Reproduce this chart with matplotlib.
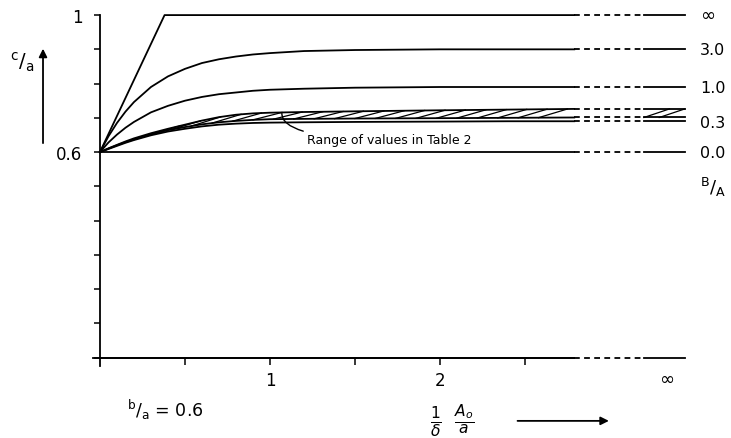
import numpy as np
import matplotlib.pyplot as plt

plt.rcParams["font.family"] = "DejaVu Sans"
plt.rcParams["mathtext.fontset"] = "dejavusans"

# values: x = (1/delta)(A0/a), y = c/a, one curve per B/A
x_inf = [0.0, 0.38, 2.79]
c_inf = [0.6, 1.0, 1.0]

x_curve = [0.0, 0.05, 0.1, 0.15, 0.2, 0.3, 0.4, 0.5, 0.6, 0.7, 0.8, 0.9,
           1.0, 1.2, 1.5, 2.0, 2.4, 2.79]
c_30 = [0.6, 0.646, 0.685, 0.718, 0.746, 0.790, 0.821, 0.843, 0.860, 0.871, 0.879, 0.885,
        0.889, 0.895, 0.898, 0.900, 0.900, 0.900]
c_10 = [0.6, 0.628, 0.651, 0.671, 0.688, 0.716, 0.735, 0.750, 0.761, 0.769, 0.774, 0.779,
        0.782, 0.785, 0.788, 0.790, 0.790, 0.790]
c_band_hi = [0.6, 0.611, 0.621, 0.631, 0.640, 0.655, 0.668, 0.680, 0.692, 0.702, 0.709, 0.713,
             0.715, 0.717, 0.719, 0.722, 0.724, 0.726]
c_band_mid = [0.6, 0.610, 0.620, 0.629, 0.637, 0.652, 0.664, 0.673, 0.681, 0.687, 0.691, 0.694,
              0.696, 0.697, 0.698, 0.699, 0.700, 0.701]
c_band_lo = [0.6, 0.609, 0.618, 0.627, 0.635, 0.649, 0.660, 0.668, 0.675, 0.680, 0.683, 0.685,
             0.686, 0.687, 0.688, 0.689, 0.690, 0.690]

x_zero = [0.0, 2.79]
c_zero = [0.6, 0.6]

ba_labels = ["\u221e", "3.0", "1.0", "0.3", "0.0"]

y_ticks = [0.0, 0.1, 0.2, 0.3, 0.4, 0.5, 0.6, 0.7, 0.8, 0.9, 1.0]
y_ticklabels = ["", "", "", "", "", "", "0.6", "", "", "", "1"]
x_ticks = [0.5, 1.0, 1.5, 2.0, 2.5]
x_ticklabels = ["", "1", "", "2", ""]

lw = 1.3
x_dash = (2.79, 3.19)
x_end = (3.20, 3.44)
dash = (0, (3.2, 2.4))

fig = plt.figure(figsize=(7.31, 4.39), dpi=100)
ax = fig.add_axes([0, 0, 1, 1])
ax.set_xlim(-0.588, 3.712)
ax.set_ylim(-0.235, 1.047)
ax.patch.set_alpha(0)


def draw(xs, ys):
    # solid part, broken (dashed) part, and the value "at infinity"
    ax.plot(xs, ys, color="black", lw=lw)
    ax.plot(x_dash, [ys[-1]] * 2, color="black", lw=lw, linestyle=dash)
    ax.plot(x_end, [ys[-1]] * 2, color="black", lw=lw)


draw(x_inf, c_inf)
draw(x_curve, c_30)
draw(x_curve, c_10)
draw(x_curve, c_band_hi)
draw(x_curve, c_band_mid)
draw(x_curve, c_band_lo)
draw(x_zero, c_zero)

# hatching of the band (range of values in Table 2)
for x0 in np.arange(0.30, 2.62, 0.12):
    x1 = x0 + 0.17
    ax.plot([x0, x1],
            [np.interp(x0, x_curve, c_band_mid), np.interp(x1, x_curve, c_band_hi)],
            color="black", lw=0.9)
for x0 in (3.20, 3.29):
    x1 = min(x0 + 0.15, x_end[1])
    ax.plot([x0, x1], [c_band_mid[-1], c_band_hi[-1]], color="black", lw=0.9)

# axes
ax.spines[["top", "right"]].set_visible(False)
ax.spines["left"].set_position(("data", 0))
ax.spines["bottom"].set_position(("data", 0))
ax.spines["left"].set_bounds(-0.025, 1.0)
ax.spines["bottom"].set_bounds(-0.04, 2.79)
ax.spines["left"].set_linewidth(lw)
ax.spines["bottom"].set_linewidth(lw)
draw([0.0, 2.79], [0.0, 0.0])

ax.set_yticks(y_ticks)
ax.set_yticklabels(y_ticklabels)
ax.set_xticks(x_ticks)
ax.set_xticklabels(x_ticklabels)
ax.tick_params(axis="y", direction="out", length=4.5, width=1.1, pad=8, labelsize=12)
ax.tick_params(axis="x", direction="out", length=5, width=1.1, pad=5, labelsize=12)
ax.text(3.335, -0.063, "\u221e", ha="center", va="center", fontsize=13)

# curve labels on the right
label_y = [c_inf[-1], c_30[-1], c_10[-1], c_band_lo[-1] - 0.005, c_zero[-1]]
for lab, yy in zip(ba_labels, label_y):
    ax.text(3.53, yy, lab, ha="left", va="center", fontsize=13 if lab == "\u221e" else 11.5)
ax.text(3.53, 0.50, r"$^{\rm B}/_{\rm A}$", ha="left", va="center", fontsize=13)

# y axis title with arrow
ax.text(-0.46, 0.866, r"$^{\rm c}/_{\rm a}$", ha="center", va="center", fontsize=14)
ax.annotate("", xy=(-0.335, 0.91), xytext=(-0.335, 0.618),
            arrowprops=dict(arrowstyle="-|>", lw=1.3, color="black", mutation_scale=12))

# x axis title with arrow
ax.text(2.07, -0.182, r"$\frac{1}{\delta}\;\;\frac{A_o}{a}$", ha="center", va="center", fontsize=16)
ax.annotate("", xy=(3.01, -0.185), xytext=(2.44, -0.185),
            arrowprops=dict(arrowstyle="-|>", lw=1.3, color="black", mutation_scale=12))

ax.text(0.385, -0.150, r"$^{\rm b}/_{\rm a}$ = 0.6", ha="center", va="center", fontsize=12.5)

ax.annotate("Range of values in Table 2", xy=(1.07, 0.713), xytext=(1.22, 0.638),
            ha="left", va="center", fontsize=9,
            arrowprops=dict(arrowstyle="-", lw=1.0, color="black", shrinkA=1, shrinkB=0,
                            connectionstyle="angle3,angleA=0,angleB=90"))

fig.savefig("out.png", dpi=100)
